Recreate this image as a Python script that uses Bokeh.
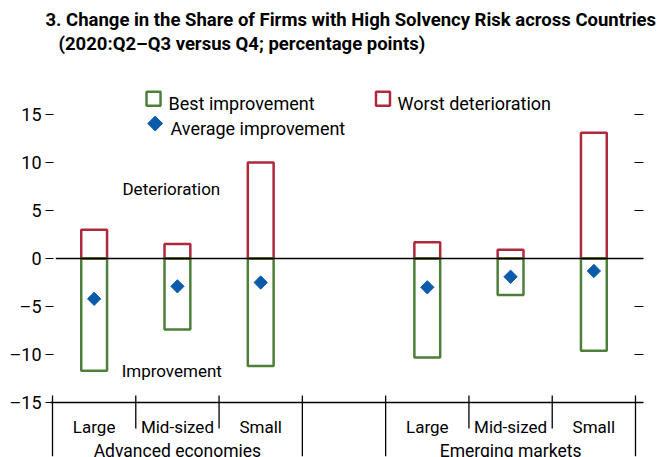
import numpy as np
from bokeh.plotting import figure
from bokeh.models import (Range1d, LinearAxis, FixedTicker, Title, ColumnDataSource)
from bokeh.core.properties import value
from bokeh.embed import file_html
from bokeh.resources import INLINE

# ---------------- data ----------------
groups = ["Advanced economies", "Emerging markets"]
sizes = ["Large", "Mid-sized", "Small"]
best_improvement = [-11.7, -7.4, -11.2, -10.3, -3.8, -9.6]
worst_deterioration = [3.0, 1.5, 10.0, 1.7, 0.9, 13.1]
average_improvement = [-4.2, -2.9, -2.5, -3.0, -1.9, -1.3]
y_ticks = [-15, -10, -5, 0, 5, 10, 15]
title_lines = ["3. Change in the Share of Firms with High Solvency Risk across Countries",
               "(2020:Q2\u2013Q3 versus Q4; percentage points)"]

# ---------------- style ----------------
FONT = "Roboto"
RED = "#B0283C"
GREEN = "#4E7F3A"
BLUE = "#0B5BAA"
SLOTS_PER_GROUP = len(sizes) + 1

x_pos = [g * SLOTS_PER_GROUP + s + 0.5 for g in range(len(groups)) for s in range(len(sizes))]
labels = [s for g in groups for s in sizes]

src = ColumnDataSource(dict(x=x_pos, lab=labels, best=best_improvement,
                            worst=worst_deterioration, avg=average_improvement))

total_slots = len(groups) * SLOTS_PER_GROUP - 1

p = figure(width=668, height=457, output_backend="svg", toolbar_location=None,
           x_range=Range1d(-0.024, total_slots + 0.096),
           y_range=Range1d(-20.729, 20.73),
           min_border_left=50, min_border_right=25, min_border_top=59, min_border_bottom=0,
           x_axis_location=None, y_axis_location=None)
p.outline_line_color = None
p.xgrid.visible = False
p.ygrid.visible = False
p.background_fill_color = "white"
p.border_fill_color = "white"

overrides = {t: (("\u2013" + str(abs(t))) if t < 0 else str(t)) for t in y_ticks}

left = LinearAxis(ticker=FixedTicker(ticks=y_ticks))
left.axis_line_color = None
left.major_tick_in = 3
left.major_tick_out = 5
left.minor_tick_line_color = None
left.major_tick_line_color = "black"
left.major_label_standoff = 4
left.major_label_text_font = FONT
left.major_label_text_font_size = "18px"
left.major_label_text_color = "black"
left.major_label_overrides = overrides
p.add_layout(left, "left")

right = LinearAxis(ticker=FixedTicker(ticks=y_ticks))
right.axis_line_color = None
right.major_tick_in = 9
right.major_tick_out = 0
right.minor_tick_line_color = None
right.major_label_standoff = 0
right.major_label_overrides = {t: "" for t in y_ticks}
p.add_layout(right, "right")

# bars
p.vbar(x="x", top="worst", bottom=0, width=0.31, source=src,
       fill_color=None, line_color=RED, line_width=2.5)
p.vbar(x="x", top=0, bottom="best", width=0.31, source=src,
       fill_color=None, line_color=GREEN, line_width=2.5)

# zero line and axis line
p.segment(x0=[0.04], y0=[0], x1=[total_slots + 0.096], y1=[0], line_color="black", line_width=1.3)
p.segment(x0=[-0.03], y0=[y_ticks[0]], x1=[total_slots + 0.096], y1=[y_ticks[0]],
          line_color="black", line_width=1.3)

# diamonds
p.scatter(x="x", y="avg", source=src, marker="square", angle=np.pi / 4, size=9.4,
          fill_color=BLUE, line_color=BLUE)

# separators
bounds = list(range(total_slots + 1))
long_b = [b for b in bounds if b % SLOTS_PER_GROUP in (0, SLOTS_PER_GROUP - 1)]
short_b = [b for b in bounds if b not in long_b]
p.segment(x0=short_b, y0=[-14.27] * len(short_b), x1=short_b, y1=[-17.7] * len(short_b),
          line_color="black", line_width=1.3)
p.segment(x0=long_b, y0=[-14.27] * len(long_b), x1=long_b, y1=[-20.6] * len(long_b),
          line_color="black", line_width=1.3)

# category labels
p.text(x="x", y=-17.6, text="lab", source=src, text_font=value(FONT), text_font_size="17px",
       text_align="center", text_baseline="alphabetic", text_color="black")
gx = [g * SLOTS_PER_GROUP + len(sizes) / 2 for g in range(len(groups))]
p.text(x=gx, y=[-20.05] * len(gx), text=groups, text_font=value(FONT), text_font_size="17.5px",
       text_align="center", text_baseline="alphabetic", text_color="black")

# annotations
p.text(x=[0.84], y=[7.26], text=["Deterioration"], text_font=value(FONT), text_font_size="17px",
       text_align="left", text_baseline="alphabetic", text_color="black")
p.text(x=[0.83], y=[-11.74], text=["Improvement"], text_font=value(FONT), text_font_size="17px",
       text_align="left", text_baseline="alphabetic", text_color="black")

# legend (manual)
p.scatter(x=[1.213], y=[16.64], marker="square", size=14, fill_color="white",
          line_color=GREEN, line_width=2.5)
p.scatter(x=[3.968], y=[16.64], marker="square", size=14, fill_color="white",
          line_color=RED, line_width=2.5)
p.scatter(x=[1.233], y=[14.06], marker="square", angle=np.pi / 4, size=10.5,
          fill_color=BLUE, line_color=BLUE)
p.text(x=[1.393, 4.142, 1.417], y=[16.15, 16.15, 13.54],
       text=["Best improvement", "Worst deterioration", "Average improvement"],
       text_font=value(FONT), text_font_size="18px", text_align="left",
       text_baseline="alphabetic", text_color="black")

# title (two lines; the one added first sits closest to the plot)
p.add_layout(Title(text=title_lines[1], align="left", offset=8, standoff=9,
                   text_font=FONT, text_font_size="18.5px", text_font_style="bold",
                   text_color="black"), "above")
p.add_layout(Title(text=title_lines[0], align="left", offset=-5, standoff=-9,
                   text_font=FONT, text_font_size="18.5px", text_font_style="bold",
                   text_color="black"), "above")

open("out.html", "w").write(file_html(p, INLINE))
